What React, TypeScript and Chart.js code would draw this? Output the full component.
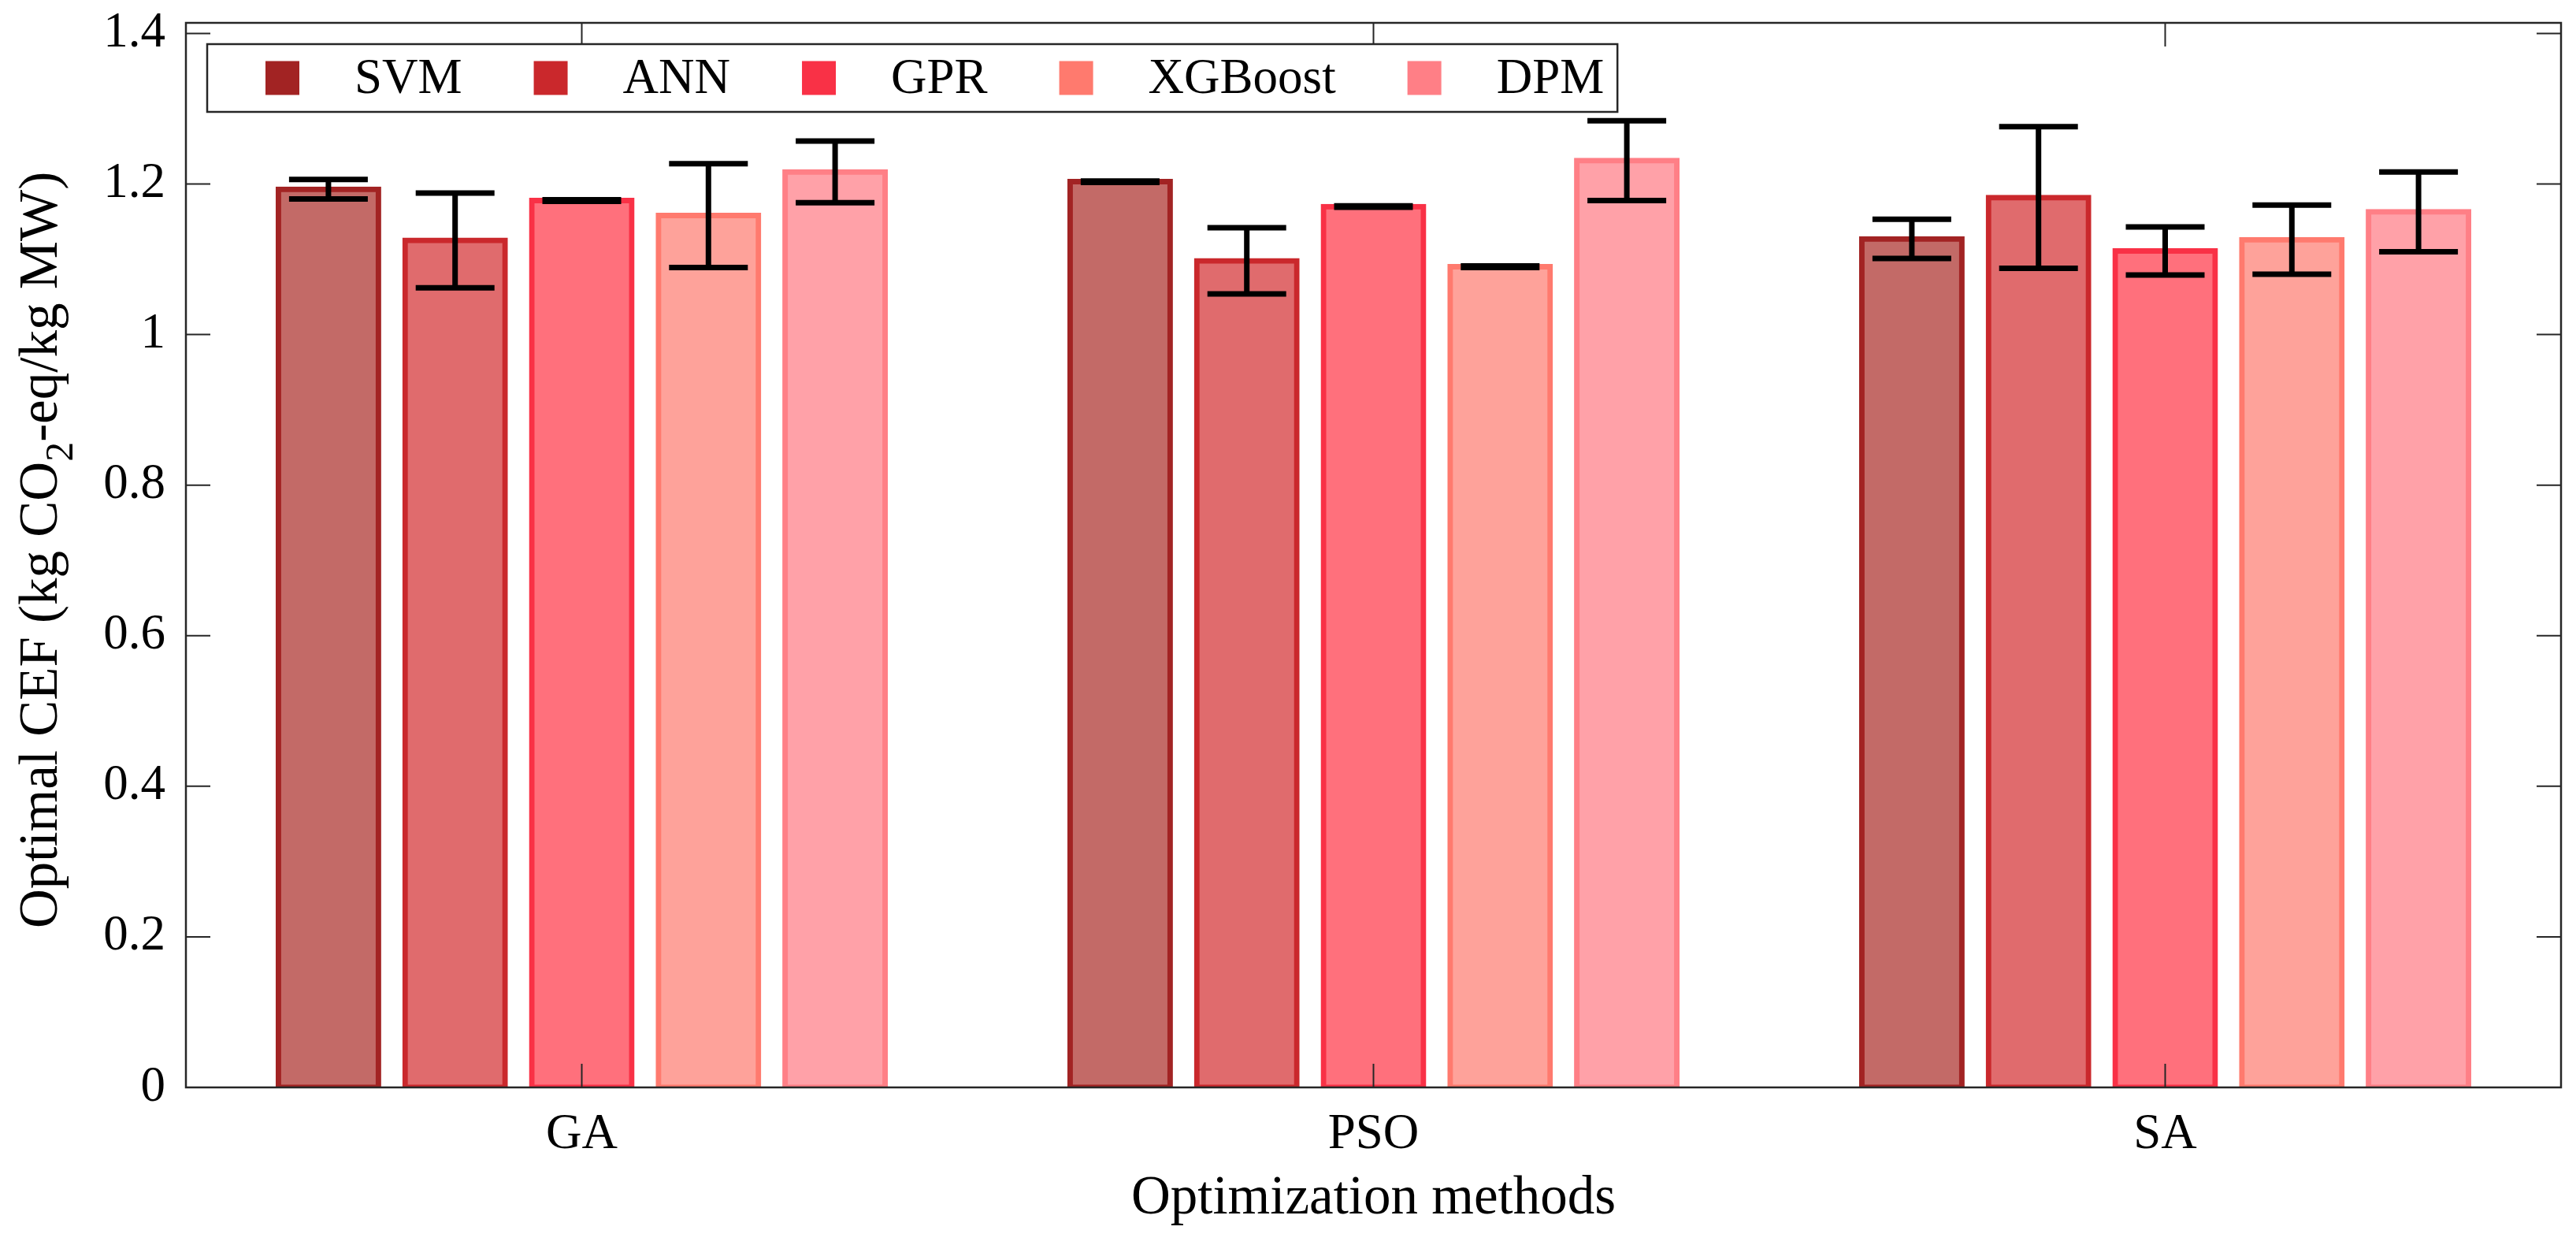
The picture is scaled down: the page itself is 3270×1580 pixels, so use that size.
import { useEffect, useRef } from "react";
import { Chart, registerables } from "chart.js";

Chart.register(...registerables);

const methods = ["GA", "PSO", "SA"];
const models = ["SVM", "ANN", "GPR", "XGBoost", "DPM"];

// mean optimal CEF for GA, PSO, SA
const svmMean = [1.193, 1.203, 1.127];
const annMean = [1.125, 1.098, 1.182];
const gprMean = [1.178, 1.17, 1.111];
const xgbMean = [1.158, 1.09, 1.126];
const dpmMean = [1.216, 1.231, 1.163];

// error bar half length
const svmErr = [0.013, 0.001, 0.026];
const annErr = [0.063, 0.044, 0.094];
const gprErr = [0.001, 0.001, 0.032];
const xgbErr = [0.069, 0.001, 0.046];
const dpmErr = [0.041, 0.053, 0.053];

const yTicks = [0, 0.2, 0.4, 0.6, 0.8, 1, 1.2, 1.4];

const edgeColors = ["#a22323", "#ca282c", "#f93146", "#ff7a6e", "#ff7f86"];
const fillColors = ["#c36a67", "#e06b6d", "#ff707c", "#fea29a", "#ffa1a8"];

const FONT = "'Liberation Serif', 'Times New Roman', serif";
const AXIS = "#262626";

const errorBars = {
  id: "errorBars",
  afterDatasetsDraw(chart: any) {
    const { ctx } = chart;
    const y = chart.scales.y;
    ctx.save();
    ctx.strokeStyle = "#000";
    ctx.lineWidth = 7;
    ctx.lineCap = "butt";
    chart.data.datasets.forEach((ds: any, i: number) => {
      const meta = chart.getDatasetMeta(i);
      meta.data.forEach((bar: any, j: number) => {
        const m = ds.data[j];
        const e = ds.errors[j];
        const top = y.getPixelForValue(m + e);
        const bot = y.getPixelForValue(m - e);
        const half = 50;
        ctx.beginPath();
        ctx.moveTo(bar.x, top);
        ctx.lineTo(bar.x, bot);
        ctx.moveTo(bar.x - half, top);
        ctx.lineTo(bar.x + half, top);
        ctx.moveTo(bar.x - half, bot);
        ctx.lineTo(bar.x + half, bot);
        ctx.stroke();
      });
    });
    ctx.restore();
  },
};

// box around the axes with inward ticks, like the matlab figure
const frame = {
  id: "frame",
  afterDatasetsDraw(chart: any) {
    const { ctx, chartArea: a } = chart;
    const x = chart.scales.x;
    const y = chart.scales.y;
    ctx.save();
    ctx.strokeStyle = AXIS;
    ctx.lineWidth = 2;
    ctx.beginPath();
    yTicks.forEach((v) => {
      const py = y.getPixelForValue(v);
      ctx.moveTo(a.left, py);
      ctx.lineTo(a.left + 31, py);
      ctx.moveTo(a.right, py);
      ctx.lineTo(a.right - 31, py);
    });
    methods.forEach((_, i) => {
      const px = x.getPixelForValue(i);
      ctx.moveTo(px, a.bottom);
      ctx.lineTo(px, a.bottom - 30);
      ctx.moveTo(px, a.top);
      ctx.lineTo(px, a.top + 30);
    });
    ctx.stroke();
    ctx.lineWidth = 2.5;
    ctx.strokeRect(a.left, a.top, a.right - a.left, a.bottom - a.top);
    ctx.restore();
  },
};

const legendBox = {
  id: "legendBox",
  afterDraw(chart: any) {
    const { ctx } = chart;
    const left = 263;
    const top = 56;
    const bottom = 142;
    const mid = (top + bottom) / 2;
    ctx.save();
    ctx.font = `63px ${FONT}`;
    let x = 337;
    const items: any[] = [];
    chart.data.datasets.forEach((ds: any) => {
      const w = ctx.measureText(ds.label).width;
      items.push({ x, label: ds.label, color: ds.legendColor });
      x += 113 + w + 91;
    });
    const right = x - 91 + 17;
    ctx.fillStyle = "#fff";
    ctx.fillRect(left, top, right - left, bottom - top);
    ctx.strokeStyle = AXIS;
    ctx.lineWidth = 2.5;
    ctx.strokeRect(left, top, right - left, bottom - top);
    items.forEach((it) => {
      ctx.fillStyle = it.color;
      ctx.fillRect(it.x, mid - 21.5, 43, 43);
      ctx.fillStyle = "#000";
      ctx.textBaseline = "middle";
      ctx.textAlign = "left";
      ctx.fillText(it.label, it.x + 113, mid + 2);
    });
    ctx.restore();
  },
};

const axisTitles = {
  id: "axisTitles",
  afterDraw(chart: any) {
    const { ctx, chartArea: a } = chart;
    ctx.save();
    ctx.fillStyle = "#000";
    ctx.font = `69px ${FONT}`;
    ctx.textAlign = "center";
    ctx.textBaseline = "middle";
    ctx.fillText("Optimization methods", (a.left + a.right) / 2, 1522);

    // y title with subscript 2
    const p1 = "Optimal CEF (kg CO";
    const p2 = "2";
    const p3 = "-eq/kg MW)";
    ctx.textAlign = "left";
    ctx.textBaseline = "alphabetic";
    const w1 = ctx.measureText(p1).width;
    const w3 = ctx.measureText(p3).width;
    ctx.font = `50px ${FONT}`;
    const w2 = ctx.measureText(p2).width;
    const total = w1 + w2 + w3;
    ctx.translate(72, 698);
    ctx.rotate(-Math.PI / 2);
    let sx = -total / 2;
    ctx.font = `69px ${FONT}`;
    ctx.fillText(p1, sx, 0);
    sx += w1;
    ctx.font = `50px ${FONT}`;
    ctx.fillText(p2, sx, 20);
    sx += w2;
    ctx.font = `69px ${FONT}`;
    ctx.fillText(p3, sx, 0);
    ctx.restore();
  },
};

export default function App() {
  const chartRef = useRef<HTMLCanvasElement>(null);
  const chartInstance = useRef<Chart | null>(null);

  useEffect(() => {
    if (!chartRef.current) return;
    if (chartInstance.current) {
      chartInstance.current.destroy();
    }
    const ctx = chartRef.current.getContext("2d");
    if (!ctx) return;

    const means = [svmMean, annMean, gprMean, xgbMean, dpmMean];
    const errs = [svmErr, annErr, gprErr, xgbErr, dpmErr];

    chartInstance.current = new Chart(ctx, {
      type: "bar",
      data: {
        labels: methods,
        datasets: models.map((name, i) => ({
          label: name,
          data: means[i],
          errors: errs[i],
          legendColor: edgeColors[i],
          backgroundColor: fillColors[i],
          borderColor: edgeColors[i],
          borderWidth: 7,
          borderSkipped: false,
          // edge centred on the bar outline, as matlab draws it
          inflateAmount: 3.5,
          barPercentage: 0.79,
          categoryPercentage: 0.8,
        })) as any,
      },
      options: {
        responsive: false,
        devicePixelRatio: 1,
        animation: false,
        layout: { padding: { top: 29, right: 19, left: 0, bottom: 0 } },
        plugins: {
          legend: { display: false },
          tooltip: { enabled: false },
        },
        scales: {
          x: {
            type: "category",
            offset: true,
            grid: { display: false, drawTicks: false },
            border: { display: false },
            ticks: {
              color: "#000",
              padding: 23,
              font: { family: FONT, size: 63 },
            },
            afterFit: (s: any) => {
              s.height = 200;
              s.paddingLeft = 0;
              s.paddingRight = 0;
            },
          },
          y: {
            min: 0,
            max: 1.414,
            grid: { display: false, drawTicks: false },
            border: { display: false },
            afterBuildTicks: (s: any) => {
              s.ticks = yTicks.map((v) => ({ value: v }));
            },
            ticks: {
              color: "#000",
              padding: 26,
              font: { family: FONT, size: 63 },
              callback: (v: any) => String(v),
            },
            afterFit: (s: any) => {
              s.width = 236;
              s.paddingTop = 0;
              s.paddingBottom = 0;
            },
          },
        },
      },
      plugins: [frame, errorBars, legendBox, axisTitles],
    });

    return () => {
      if (chartInstance.current) {
        chartInstance.current.destroy();
        chartInstance.current = null;
      }
    };
  }, []);

  return (
    <div
      style={{
        position: "fixed",
        left: 0,
        top: 0,
        width: 3270,
        height: 1580,
        background: "#fff",
      }}
    >
      <canvas ref={chartRef} width={3270} height={1580} />
    </div>
  );
}
